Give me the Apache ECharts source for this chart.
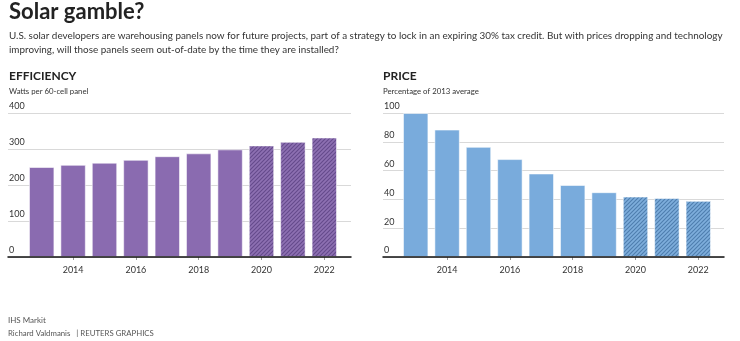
<!DOCTYPE html>
<html><head><meta charset="utf-8">
<script src="https://cdn.jsdelivr.net/npm/echarts@6/dist/echarts.min.js"></script>
<style>html,body{margin:0;padding:0;background:#fff}#c{width:740px;height:341px}</style>
</head><body><div id="c"></div>
<script>
const years = ['2013','2014','2015','2016','2017','2018','2019','2020','2021','2022'];
const efficiency = [250, 256, 262, 270, 280, 288, 299, 310, 320, 332];
const price = [100, 88.5, 76.5, 68, 58, 50, 45, 42, 41, 39];
const effTicks = [0, 100, 200, 300, 400];
const priceTicks = [0, 20, 40, 60, 80, 100];
const firstProjectedYear = '2020';

const FONT = 'Lato, "Open Sans", sans-serif';

function hatch(bg, fg) {
  const c = document.createElement('canvas');
  c.width = 4; c.height = 4;
  const g = c.getContext('2d');
  g.fillStyle = bg; g.fillRect(0, 0, 4, 4);
  g.strokeStyle = fg; g.lineWidth = 1.1;
  g.beginPath();
  g.moveTo(0, 4); g.lineTo(4, 0);
  g.moveTo(-1, 1); g.lineTo(1, -1);
  g.moveTo(3, 5); g.lineTo(5, 3);
  g.stroke();
  return c;
}
const purple = '#8a6bb0', blue = '#79abdc';
const purpleHatch = {image: hatch('#8d70b2', '#654a8c'), repeat: 'repeat'};
const blueHatch = {image: hatch('#7eaedc', '#4f7eae'), repeat: 'repeat'};

function barData(vals, solid, hatched) {
  const cut = years.indexOf(firstProjectedYear);
  return vals.map((v, i) => ({value: v, itemStyle: {color: i >= cut ? hatched : solid}}));
}

const chart = echarts.init(document.getElementById('c'), null, {renderer: 'canvas'});
const TOP = 113, H = 144;
const oddLabel = (i) => i % 2 === 1;

function catX(gi) {
  return {
    type: 'category', gridIndex: gi, data: years,
    axisLine: {show: false},
    axisTick: {show: true, interval: oddLabel, alignWithLabel: true, length: 3, lineStyle: {color: '#999'}},
    axisLabel: {interval: oddLabel, margin: 9, fontSize: 9, color: '#333', fontFamily: FONT}
  };
}
function bgX(gi) {
  return {
    type: 'value', gridIndex: gi, min: 0, max: 1, z: 5,
    axisLine: {show: true, onZero: false, lineStyle: {color: '#111', width: 1.5}},
    axisTick: {show: false}, axisLabel: {show: false}, splitLine: {show: false}
  };
}
function bgY(gi, ticks) {
  return {
    type: 'value', gridIndex: gi, min: ticks[0], max: ticks[ticks.length - 1], interval: ticks[1] - ticks[0],
    axisLine: {show: false}, axisTick: {show: false},
    splitLine: {show: true, lineStyle: {color: '#d9d9d9', width: 1}},
    axisLabel: {inside: true, margin: 1, align: 'left', verticalAlign: 'bottom', padding: [0, 0, 2, 0],
      fontSize: 9, color: '#333', fontFamily: FONT}
  };
}
function hidY(gi, ticks) {
  return {type: 'value', gridIndex: gi, min: ticks[0], max: ticks[ticks.length - 1], show: false};
}

function txt(text, x, y, size, weight, color) {
  return {type: 'text', x: x, y: y, silent: true,
    style: {text: text, font: weight + ' ' + size + 'px ' + FONT, fill: color, verticalAlign: 'middle', align: 'left'}};
}

chart.setOption({
  animation: false,
  grid: [
    {left: 26, width: 314, top: TOP, height: H},
    {left: 8, width: 343, top: TOP, height: H},
    {left: 400, width: 314, top: TOP, height: H},
    {left: 383, width: 341, top: TOP, height: H}
  ],
  xAxis: [catX(0), bgX(1), catX(2), bgX(3)],
  yAxis: [hidY(0, effTicks), bgY(1, effTicks), hidY(2, priceTicks), bgY(3, priceTicks)],
  series: [
    {type: 'bar', xAxisIndex: 0, yAxisIndex: 0, barCategoryGap: '19%',
     itemStyle: {borderColor: 'rgba(255,255,255,0.55)', borderWidth: 1},
     data: barData(efficiency, purple, purpleHatch)},
    {type: 'bar', xAxisIndex: 2, yAxisIndex: 2, barCategoryGap: '19%',
     itemStyle: {borderColor: 'rgba(255,255,255,0.55)', borderWidth: 1},
     data: barData(price, blue, blueHatch)}
  ],
  graphic: [
    txt('Solar gamble?', 9, 12, 22, 'bold', '#222'),
    txt('U.S. solar developers are warehousing panels now for future projects, part of a strategy to lock in an expiring 30% tax credit. But with prices dropping and technology', 9, 36, 9.9, 'normal', '#333'),
    txt('improving, will those panels seem out-of-date by the time they are installed?', 9, 50, 9.9, 'normal', '#333'),
    txt('EFFICIENCY', 9, 76, 12, 'bold', '#222'),
    txt('Watts per 60-cell panel', 9, 91, 7.8, 'normal', '#333'),
    txt('PRICE', 383, 76, 12, 'bold', '#222'),
    txt('Percentage of 2013 average', 383, 91, 7.8, 'normal', '#333'),
    txt('IHS Markit', 8, 320, 8, 'normal', '#555'),
    txt('Richard Valdmanis   | REUTERS GRAPHICS', 8, 333, 7.8, 'normal', '#555')
  ]
});
</script></body></html>
